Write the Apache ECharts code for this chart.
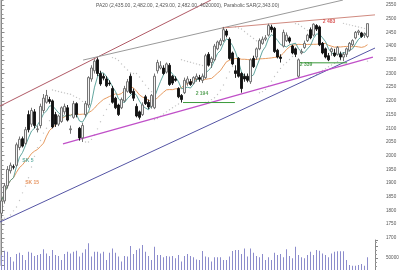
<!DOCTYPE html>
<html>
<head>
<meta charset="utf-8">
<script src="https://cdn.jsdelivr.net/npm/echarts@6/dist/echarts.min.js"></script>
<style>
html,body{margin:0;padding:0;background:#fff;}
#chart{width:400px;height:270px;}
</style>
</head>
<body>
<div id="chart"></div>
<script>
// ---- data ----
const opens  = [1790,1835,1890,1945,1960,1965,2030,2062,2045,2150,2115,2160,2095,2110,2165,2195,2205,2200,2150,2115,
                2125,2160,2175,2095,2140,2190,2100,2065,2150,2185,2280,2310,2350,2300,2290,2280,2265,2245,2210,2185,
                2175,2200,2235,2290,2235,2180,2160,2150,2215,2195,2180,2175,2310,2320,2320,2305,2330,2290,2280,2245,
                2220,2230,2265,2270,2265,2280,2285,2275,2285,2370,2340,2350,2390,2405,2420,2455,2425,2375,2310,2355,
                2300,2290,2290,2270,2355,2360,2390,2410,2425,2440,2470,2465,2385,2360,2400,2420,2430,2400,2390,2290,
                2375,2395,2420,2460,2440,2475,2470,2410,2390,2365,2380,2375,2370,2370,2360,2370,2385,2405,2430,2450,
                2448,2440,2435];
const closes = [1835,1890,1950,1965,1958,2040,2060,2035,2095,2095,2165,2110,2098,2180,2210,2220,2198,2105,2115,2145,
                2175,2180,2130,2098,2190,2150,2065,2110,2190,2285,2320,2345,2300,2262,2283,2255,2262,2195,2175,2150,
                2205,2245,2270,2230,2210,2145,2140,2185,2190,2178,2220,2290,2340,2328,2300,2335,2260,2265,2275,2215,
                2205,2275,2280,2260,2285,2290,2280,2290,2365,2330,2355,2400,2415,2420,2460,2440,2355,2335,2300,2290,
                2245,2280,2275,2350,2325,2390,2420,2425,2430,2475,2460,2380,2360,2355,2450,2440,2418,2375,2370,2350,
                2380,2410,2440,2430,2480,2462,2405,2375,2360,2350,2390,2365,2395,2360,2370,2390,2410,2420,2450,2455,
                2435,2445,2482];
const highs  = [1845,1900,1962,1975,1968,2048,2070,2070,2105,2165,2175,2170,2110,2190,2225,2240,2215,2205,2160,2150,
                2180,2190,2185,2110,2200,2195,2105,2120,2200,2290,2330,2352,2358,2310,2300,2290,2275,2255,2215,2190,
                2212,2255,2280,2300,2245,2190,2165,2195,2222,2205,2225,2300,2350,2345,2330,2340,2338,2295,2290,2250,
                2225,2285,2290,2280,2290,2300,2295,2300,2372,2378,2362,2408,2420,2428,2470,2462,2432,2380,2330,2360,
                2305,2300,2300,2355,2365,2395,2428,2435,2440,2482,2478,2470,2390,2370,2460,2450,2435,2405,2395,2355,
                2390,2420,2445,2468,2483,2480,2475,2415,2395,2375,2395,2390,2400,2380,2378,2395,2415,2425,2455,2460,
                2452,2450,2482];
const lows   = [1772,1825,1880,1935,1950,1960,2020,2030,2040,2085,2105,2100,2085,2100,2155,2190,2190,2100,2105,2108,
                2120,2150,2125,2080,2135,2140,2055,2050,2140,2175,2270,2300,2290,2255,2275,2250,2255,2190,2170,2145,
                2170,2195,2230,2225,2200,2140,2132,2145,2185,2170,2172,2170,2300,2315,2295,2300,2255,2258,2270,2210,
                2194,2225,2255,2255,2260,2270,2270,2265,2280,2325,2320,2345,2385,2400,2415,2432,2350,2330,2284,2285,
                2230,2270,2268,2262,2320,2350,2385,2405,2418,2435,2450,2375,2355,2340,2395,2415,2410,2370,2360,2285,
                2370,2390,2415,2425,2435,2455,2400,2370,2355,2345,2365,2360,2365,2350,2345,2360,2380,2400,2425,2440,
                2430,2430,2429];
const volumes = [62000,80000,76000,54000,35000,67000,72000,62000,42000,76000,72000,58000,62000,67000,86000,69000,58000,83000,62000,58000,
                 42000,67000,76000,69000,76000,80000,56000,72000,86000,111000,56000,76000,76000,69000,76000,42000,72000,90000,72000,56000,
                 35000,58000,56000,100000,67000,83000,90000,104000,76000,58000,42000,97000,62000,62000,53000,58000,56000,58000,49000,62000,
                 35000,58000,67000,58000,53000,44000,42000,79000,56000,53000,35000,53000,53000,53000,42000,42000,56000,79000,83000,83000,
                 67000,90000,56000,90000,72000,58000,53000,67000,42000,53000,42000,72000,62000,67000,53000,86000,58000,49000,97000,62000,
                 53000,49000,62000,76000,62000,83000,80000,69000,62000,53000,69000,76000,78000,78000,78000,42000,21000,18000,18000,21000,
                 25000,18000,53000];
const padCount = 2; // empty slots at the right edge before the axis

// trend lines in data units: [candle index, price]
const blueLine    = [[-0.5, 1758], [124.5, 2393]];
const magentaLine = [[20.5, 2043], [123.8, 2360]];
const redLine     = [[-0.5, 2181], [69.8, 2568]];
const greyLine    = [[27.2, 2349], [113.8, 2568]];
const salmonLine  = [[73.5, 2466], [124.5, 2514]];
const greenLow1   = [[60.5, 2194], [77.8, 2194]];
const greenLow2   = [[99.5, 2339], [115.2, 2339]];

// annotation texts: [candle index, price, text, colour]
const notes = [
  [8.8, 1981, 'SK 5', '#3a9a8c'],
  [10.2, 1900, 'SK 15', '#e07b39'],
  [66.8, 2225, '2 194', '#2e8b2e'],
  [101.5, 2331, '2 339', '#2e8b2e'],
  [109.2, 2488, '2 483', '#d03030']
];
const titleText = 'PA20 (2,435.00, 2,482.00, 2,429.00, 2,482.00, 4020000), Parabolic SAR(2,343.00)';
const priceLabelMin = 1700, priceLabelMax = 2550;
const volumeLabel = 50000;

// ---- derived ----
const n = closes.length;
const categories = Array.from({length: n + padCount}, (_, i) => String(i + 1));
const candles = opens.map((o, i) => [o, closes[i], lows[i], highs[i]]);

function sma(arr, w) {
  return arr.map((_, i) => {
    const s = Math.max(0, i - w + 1);
    let t = 0;
    for (let k = s; k <= i; k++) t += arr[k];
    return +(t / (i - s + 1)).toFixed(2);
  });
}
function parabolicSar(h, l, step, maxAf) {
  const out = [];
  let up = true, af = step, ep = h[0], s = l[0];
  out.push(s);
  for (let i = 1; i < h.length; i++) {
    s = s + af * (ep - s);
    if (up) {
      s = Math.min(s, l[i - 1], l[Math.max(0, i - 2)]);
      if (l[i] < s) { up = false; s = ep; ep = l[i]; af = step; }
      else if (h[i] > ep) { ep = h[i]; af = Math.min(af + step, maxAf); }
    } else {
      s = Math.max(s, h[i - 1], h[Math.max(0, i - 2)]);
      if (h[i] > s) { up = true; s = ep; ep = h[i]; af = step; }
      else if (l[i] < ep) { ep = l[i]; af = Math.min(af + step, maxAf); }
    }
    out.push(s);
  }
  return out;
}
const ma5 = sma(closes, 5);
const ma15 = sma(closes, 15);
const sar = parabolicSar(highs, lows, 0.02, 0.2).map((v, i) => [i, +v.toFixed(2)]);

function trend(data, color, width) {
  return {
    type: 'line', xAxisIndex: 2, yAxisIndex: 0, data: data,
    symbol: 'none', silent: true, animation: false,
    lineStyle: {color: color, width: width || 1}, z: 3
  };
}

const chart = echarts.init(document.getElementById('chart'), null, {renderer: 'canvas'});
chart.setOption({
  backgroundColor: '#ffffff',
  animation: false,
  title: {
    text: titleText, left: 96, top: 3, padding: 0,
    textStyle: {fontSize: 5, fontWeight: 'normal', color: '#555', fontFamily: 'Liberation Sans'}
  },
  grid: [
    {left: 0, right: 25, top: -8.7, height: 274, containLabel: false, outerBoundsMode: 'none'},
    {left: 0, right: 25, top: 240, height: 30, containLabel: false, outerBoundsMode: 'none'}
  ],
  xAxis: [
    {type: 'category', data: categories, gridIndex: 0, show: false, boundaryGap: true},
    {type: 'category', data: categories, gridIndex: 1, show: false, boundaryGap: true},
    {type: 'value', gridIndex: 0, min: -0.5, max: n + padCount - 0.5, show: false}
  ],
  yAxis: [
    {
      type: 'value', gridIndex: 0, position: 'right', min: 1600, max: 2600, interval: 50,
      axisLine: {show: true, lineStyle: {color: '#888', width: 1}},
      axisTick: {show: true, length: 3, lineStyle: {color: '#888'}},
      minorTick: {show: true, splitNumber: 3, length: 2, lineStyle: {color: '#999'}},
      splitLine: {show: false},
      axisLabel: {
        margin: 11, fontSize: 4.6, color: '#555', fontFamily: 'Liberation Sans',
        formatter: v => (v >= priceLabelMin && v <= priceLabelMax) ? String(v) : ''
      }
    },
    {
      type: 'value', gridIndex: 1, position: 'right', min: 0, max: 125000, interval: 50000,
      axisLine: {show: true, lineStyle: {color: '#888', width: 1}},
      axisTick: {show: true, length: 3, lineStyle: {color: '#888'}},
      minorTick: {show: true, splitNumber: 3, length: 2, lineStyle: {color: '#999'}},
      splitLine: {show: false},
      axisLabel: {
        margin: 11, fontSize: 4.6, color: '#555', fontFamily: 'Liberation Sans',
        formatter: v => v === volumeLabel ? String(v) : ''
      }
    },
    {
      type: 'value', gridIndex: 0, position: 'left', min: 1600, max: 2600,
      axisLine: {show: true, lineStyle: {color: '#c8c8c8', width: 1}},
      axisTick: {show: false}, axisLabel: {show: false}, splitLine: {show: false}
    }
  ],
  series: [
    trend(blueLine, '#5454a4', 1),
    trend(magentaLine, '#c050c8', 1.2),
    trend(redLine, '#b05a66', 1),
    trend(greyLine, '#9a9a9a', 1),
    trend(salmonLine, '#d08a80', 1),
    trend(greenLow1, '#3a9a3a', 1),
    trend(greenLow2, '#3a9a3a', 1),
    {
      type: 'scatter', xAxisIndex: 0, yAxisIndex: 0, data: sar,
      symbol: 'circle', symbolSize: 1.4, itemStyle: {color: '#b4b4b4'}, z: 2, silent: true
    },
    {
      type: 'line', xAxisIndex: 0, yAxisIndex: 0, data: ma15, symbol: 'none', smooth: false,
      lineStyle: {color: '#e3904f', width: 0.9}, z: 4, silent: true
    },
    {
      type: 'line', xAxisIndex: 0, yAxisIndex: 0, data: ma5, symbol: 'none', smooth: false,
      lineStyle: {color: '#3a8f86', width: 0.8}, z: 4, silent: true
    },
    {
      type: 'candlestick', xAxisIndex: 0, yAxisIndex: 0, data: candles, barWidth: 2.6, z: 5,
      itemStyle: {color: '#f2f2f2', color0: '#111111', borderColor: '#666666', borderColor0: '#111111', borderWidth: 0.9}
    },
    {
      type: 'bar', xAxisIndex: 1, yAxisIndex: 1, data: volumes, barWidth: 1,
      itemStyle: {color: '#8c8ccc'}, silent: true
    },
    {
      type: 'scatter', xAxisIndex: 2, yAxisIndex: 0, symbolSize: 0, z: 6, silent: true,
      data: notes.map(d => ({value: [d[0], d[1]], name: d[2], label: {color: d[3]}})),
      label: {
        show: true, position: 'inside', formatter: p => p.name,
        fontSize: 5, fontFamily: 'Liberation Sans', fontWeight: 'bold'
      }
    }
  ]
});
</script>
</body>
</html>
